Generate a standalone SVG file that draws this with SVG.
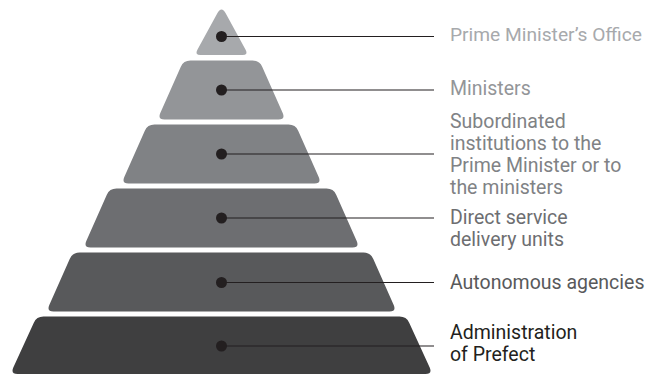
<svg xmlns="http://www.w3.org/2000/svg" width="648" height="375" viewBox="0 0 648 375">
  <style>
    .lbl { font-family: Roboto, "Noto Sans", "Liberation Sans", sans-serif; font-size: 19.5px; font-weight: 400; }
    .dot { fill: #231f20; }
    .ln { stroke: #231f20; stroke-width: 1.2; fill: none; }
  </style>
  <rect width="648" height="375" fill="#ffffff"/>
  <g id="level1">
    <path d="M217.2,13.5 Q221.5,5.5 225.8,13.5 L245.6,49.75 Q248.5,55 242.5,55 H200.5 Q194.5,55 197.4,49.75 Z" fill="#a7a9ac"/>
    <text class="lbl" x="450" y="41" fill="#a7a9ac" style="font-size:19.2px">Prime Minister’s Office</text>
  </g>
  <g id="level2">
    <path d="M190.5,60.5 H252.5 Q259.5,60.5 262.3,66.9 L282.7,113.1 Q285.5,119.5 278.5,119.5 H164.5 Q157.5,119.5 160.3,113.1 L180.7,66.9 Q183.5,60.5 190.5,60.5 Z" fill="#939598"/>
    <text class="lbl" x="450" y="94.5" fill="#939598">Ministers</text>
  </g>
  <g id="level3">
    <path d="M154.5,124.5 H288.5 Q295.5,124.5 298.3,130.9 L318.7,177.1 Q321.5,183.5 314.5,183.5 H128.5 Q121.5,183.5 124.3,177.1 L144.7,130.9 Q147.5,124.5 154.5,124.5 Z" fill="#808285"/>
    <text class="lbl" x="450" fill="#808285"><tspan x="450" y="127.5">Subordinated</tspan><tspan x="450" y="149.5">institutions to the</tspan><tspan x="450" y="171.5">Prime Minister or to</tspan><tspan x="450" y="193.5">the ministers</tspan></text>
  </g>
  <g id="level4">
    <path d="M116.5,188.5 H326.5 Q333.5,188.5 336.3,194.9 L356.7,241.1 Q359.5,247.5 352.5,247.5 H90.5 Q83.5,247.5 86.3,241.1 L106.7,194.9 Q109.5,188.5 116.5,188.5 Z" fill="#6d6e71"/>
    <text class="lbl" x="450" fill="#6d6e71"><tspan x="450" y="224">Direct service</tspan><tspan x="450" y="246">delivery units</tspan></text>
  </g>
  <g id="level5">
    <path d="M79.5,252.5 H363.5 Q370.5,252.5 373.3,258.9 L393.7,305.1 Q396.5,311.5 389.5,311.5 H53.5 Q46.5,311.5 49.3,305.1 L69.7,258.9 Q72.5,252.5 79.5,252.5 Z" fill="#58595b"/>
    <text class="lbl" x="450" y="289" fill="#58595b">Autonomous agencies</text>
  </g>
  <g id="level6">
    <path d="M43.5,316.5 H399.5 Q406.5,316.5 409.3,322.9 L429.7,367.6 Q432.5,374 425.5,374 H17.5 Q10.5,374 13.3,367.6 L33.7,322.9 Q36.5,316.5 43.5,316.5 Z" fill="#3f3f40"/>
    <text class="lbl" x="450" fill="#231f20"><tspan x="450" y="339">Administration</tspan><tspan x="450" y="361">of Prefect</tspan></text>
  </g>
  <g id="connectors">
    <line class="ln" x1="221.5" y1="36.5" x2="434" y2="36.5"/>
    <line class="ln" x1="221.5" y1="90" x2="434" y2="90"/>
    <line class="ln" x1="221.5" y1="154" x2="434" y2="154"/>
    <line class="ln" x1="221.5" y1="218" x2="434" y2="218"/>
    <line class="ln" x1="221.5" y1="282.5" x2="434" y2="282.5"/>
    <line class="ln" x1="221.5" y1="346" x2="434" y2="346"/>
    <circle class="dot" cx="221.5" cy="36.5" r="5.5"/>
    <circle class="dot" cx="221.5" cy="90" r="5.5"/>
    <circle class="dot" cx="221.5" cy="154" r="5.5"/>
    <circle class="dot" cx="221.5" cy="218" r="5.5"/>
    <circle class="dot" cx="221.5" cy="282.5" r="5.5"/>
    <circle class="dot" cx="221.5" cy="346" r="5.5"/>
  </g>
</svg>
